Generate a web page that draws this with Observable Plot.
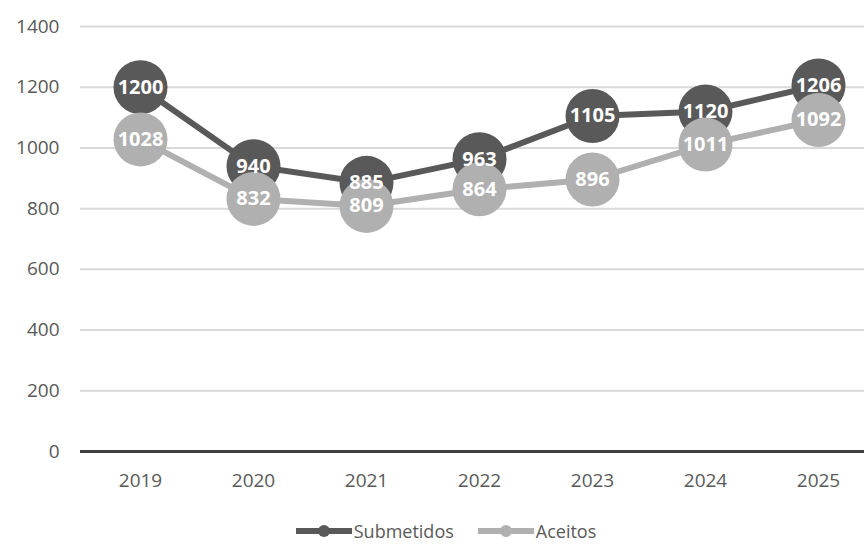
<!DOCTYPE html>
<html><head><meta charset="utf-8">
<script src="https://cdn.jsdelivr.net/npm/d3@7"></script>
<script src="https://cdn.jsdelivr.net/npm/@observablehq/plot@0.6"></script>
<style>
body{margin:0;background:#fff;font-family:"Open Sans",sans-serif;overflow:hidden;}
#chart svg{display:block;}
#legend{display:flex;justify-content:center;align-items:center;gap:24px;font-size:18px;line-height:18px;height:18px;color:#595959;margin-top:26px;margin-left:28px;}
.item{display:flex;align-items:center;}
.sw{position:relative;width:56px;height:6px;margin-right:2px;}
.sw .dot{position:absolute;left:22px;top:-3px;width:12px;height:12px;border-radius:6px;}
</style></head>
<body>
<div id="chart"></div>
<div id="legend"></div>
<script>
const years = ["2019","2020","2021","2022","2023","2024","2025"];
const submetidos = [1200, 940, 885, 963, 1105, 1120, 1206];
const aceitos = [1028, 832, 809, 864, 896, 1011, 1092];
const yTicks = [0, 200, 400, 600, 800, 1000, 1200, 1400];
const seriesNames = ["Submetidos", "Aceitos"];
const colors = ["#595959", "#b0b0b0"];

const dS = years.map((y,i)=>({year:y, value:submetidos[i]}));
const dA = years.map((y,i)=>({year:y, value:aceitos[i]}));

const font = "Open Sans";
const plot = Plot.plot({
  width: 864, height: 496,
  marginLeft: 80, marginRight: 0, marginTop: 26, marginBottom: 45,
  style: {fontFamily: font, fontSize: "19px", color: "#595959", background: "#fff"},
  x: {type: "point", domain: years, range: [137, 820], padding: 0, label: null},
  y: {domain: [0, 1400], label: null},
  marks: [
    Plot.ruleY(yTicks.filter(t=>t>0), {stroke: "#d9d9d9", strokeWidth: 2}),
    Plot.ruleY([0], {stroke: "#404040", strokeWidth: 3}),
    Plot.axisY({ticks: yTicks, tickFormat: d=>String(d), tickSize: 0, tickPadding: 21, fontSize: 19, fill: "#595959", label: null}),
    Plot.axisX({tickSize: 0, tickPadding: 22, fontSize: 19, fill: "#595959", label: null}),
    Plot.line(dS, {x: "year", y: "value", stroke: colors[0], strokeWidth: 6}),
    Plot.dot(dS, {x: "year", y: "value", r: 27, fill: colors[0]}),
    Plot.line(dA, {x: "year", y: "value", stroke: colors[1], strokeWidth: 6}),
    Plot.dot(dA, {x: "year", y: "value", r: 27, fill: colors[1]}),
    Plot.text(dS, {x: "year", y: "value", text: d=>String(d.value), fill: "white", fontWeight: "bold", fontSize: 20}),
    Plot.text(dA, {x: "year", y: "value", text: d=>String(d.value), fill: "white", fontWeight: "bold", fontSize: 20})
  ]
});
document.getElementById("chart").appendChild(plot);

const lg = document.getElementById("legend");
seriesNames.forEach((n,i)=>{
  const it = document.createElement("div"); it.className="item";
  it.innerHTML = `<div class="sw" style="background:${colors[i]}"><div class="dot" style="background:${colors[i]}"></div></div><span>${n}</span>`;
  lg.appendChild(it);
});
</script>
</body></html>
